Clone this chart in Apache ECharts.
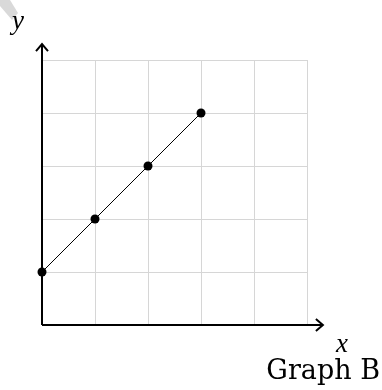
<!DOCTYPE html>
<html>
<head>
<meta charset="utf-8">
<script src="https://cdn.jsdelivr.net/npm/echarts@6/dist/echarts.min.js"></script>
<style>
html, body { margin: 0; padding: 0; background: #fff; }
#main { width: 382px; height: 390px; }
</style>
</head>
<body>
<div id="main"></div>
<script>
// points of the line
const xValues = [0, 1, 2, 3]
const yValues = [1, 2, 3, 4]
// axis range (grid goes 0..5, the arrows stick out a bit further)
const axisMin = 0
const axisMax = 5
const axisArrowEnd = 5.3
const xName = 'x'
const yName = 'y'
const caption = 'Graph B'

const chart = echarts.init(document.getElementById('main'), null, { renderer: 'canvas' })

const seriesData = xValues.map((x, i) => [x, yValues[i]])

chart.setOption({
  animation: false,
  backgroundColor: '#fff',
  grid: { left: 42, right: 75, top: 60, bottom: 65 },
  xAxis: {
    type: 'value', min: axisMin, max: axisMax, interval: 1,
    axisLine: { show: false }, axisTick: { show: false }, axisLabel: { show: false },
    splitLine: { show: true, lineStyle: { color: '#d6d6d6', width: 1 } }
  },
  yAxis: {
    type: 'value', min: axisMin, max: axisMax, interval: 1,
    axisLine: { show: false }, axisTick: { show: false }, axisLabel: { show: false },
    splitLine: { show: true, lineStyle: { color: '#d6d6d6', width: 1 } }
  },
  series: [
    {
      type: 'line',
      data: seriesData,
      symbol: 'circle',
      symbolSize: 9,
      itemStyle: { color: '#000' },
      lineStyle: { color: '#000', width: 1 },
      z: 5
    }
  ]
})

// axes with latex-style arrow heads, placed through the chart's own scales
const o = chart.convertToPixel({ gridIndex: 0 }, [0, 0])
const xe = chart.convertToPixel({ gridIndex: 0 }, [axisArrowEnd, 0])
const ye = chart.convertToPixel({ gridIndex: 0 }, [0, axisArrowEnd])
const axisStyle = { stroke: '#000', lineWidth: 2, fill: null }

chart.setOption({
  graphic: [
    // grey watermark corner
    { type: 'polygon', shape: { points: [[6, 0], [10, 0], [18, 13], [12, 20], [0, 6], [0, 0]] }, style: { fill: '#d9d9d9' }, z: 0 },
    { type: 'line', shape: { x1: o[0], y1: o[1], x2: xe[0] - 1, y2: xe[1] }, style: axisStyle, z: 10 },
    { type: 'line', shape: { x1: o[0], y1: o[1], x2: ye[0], y2: ye[1] + 1 }, style: axisStyle, z: 10 },
    { type: 'polyline', shape: { points: [[xe[0] - 7, xe[1] - 6], [xe[0], xe[1]], [xe[0] - 7, xe[1] + 6]] }, style: axisStyle, z: 10 },
    { type: 'polyline', shape: { points: [[ye[0] - 6, ye[1] + 7], [ye[0], ye[1]], [ye[0] + 6, ye[1] + 7]] }, style: axisStyle, z: 10 },
    { type: 'text', x: 342, y: 345, style: { text: xName, font: 'italic 27px "Liberation Serif"', fill: '#000', align: 'center', verticalAlign: 'middle' }, z: 10 },
    { type: 'text', x: 18, y: 22, style: { text: yName, font: 'italic 27px "Liberation Serif"', fill: '#000', align: 'center', verticalAlign: 'middle' }, z: 10 },
    { type: 'text', x: 380, y: 372, style: { text: caption, font: '27px "DejaVu Serif"', fill: '#000', align: 'right', verticalAlign: 'middle' }, z: 10 }
  ]
})
</script>
</body>
</html>
